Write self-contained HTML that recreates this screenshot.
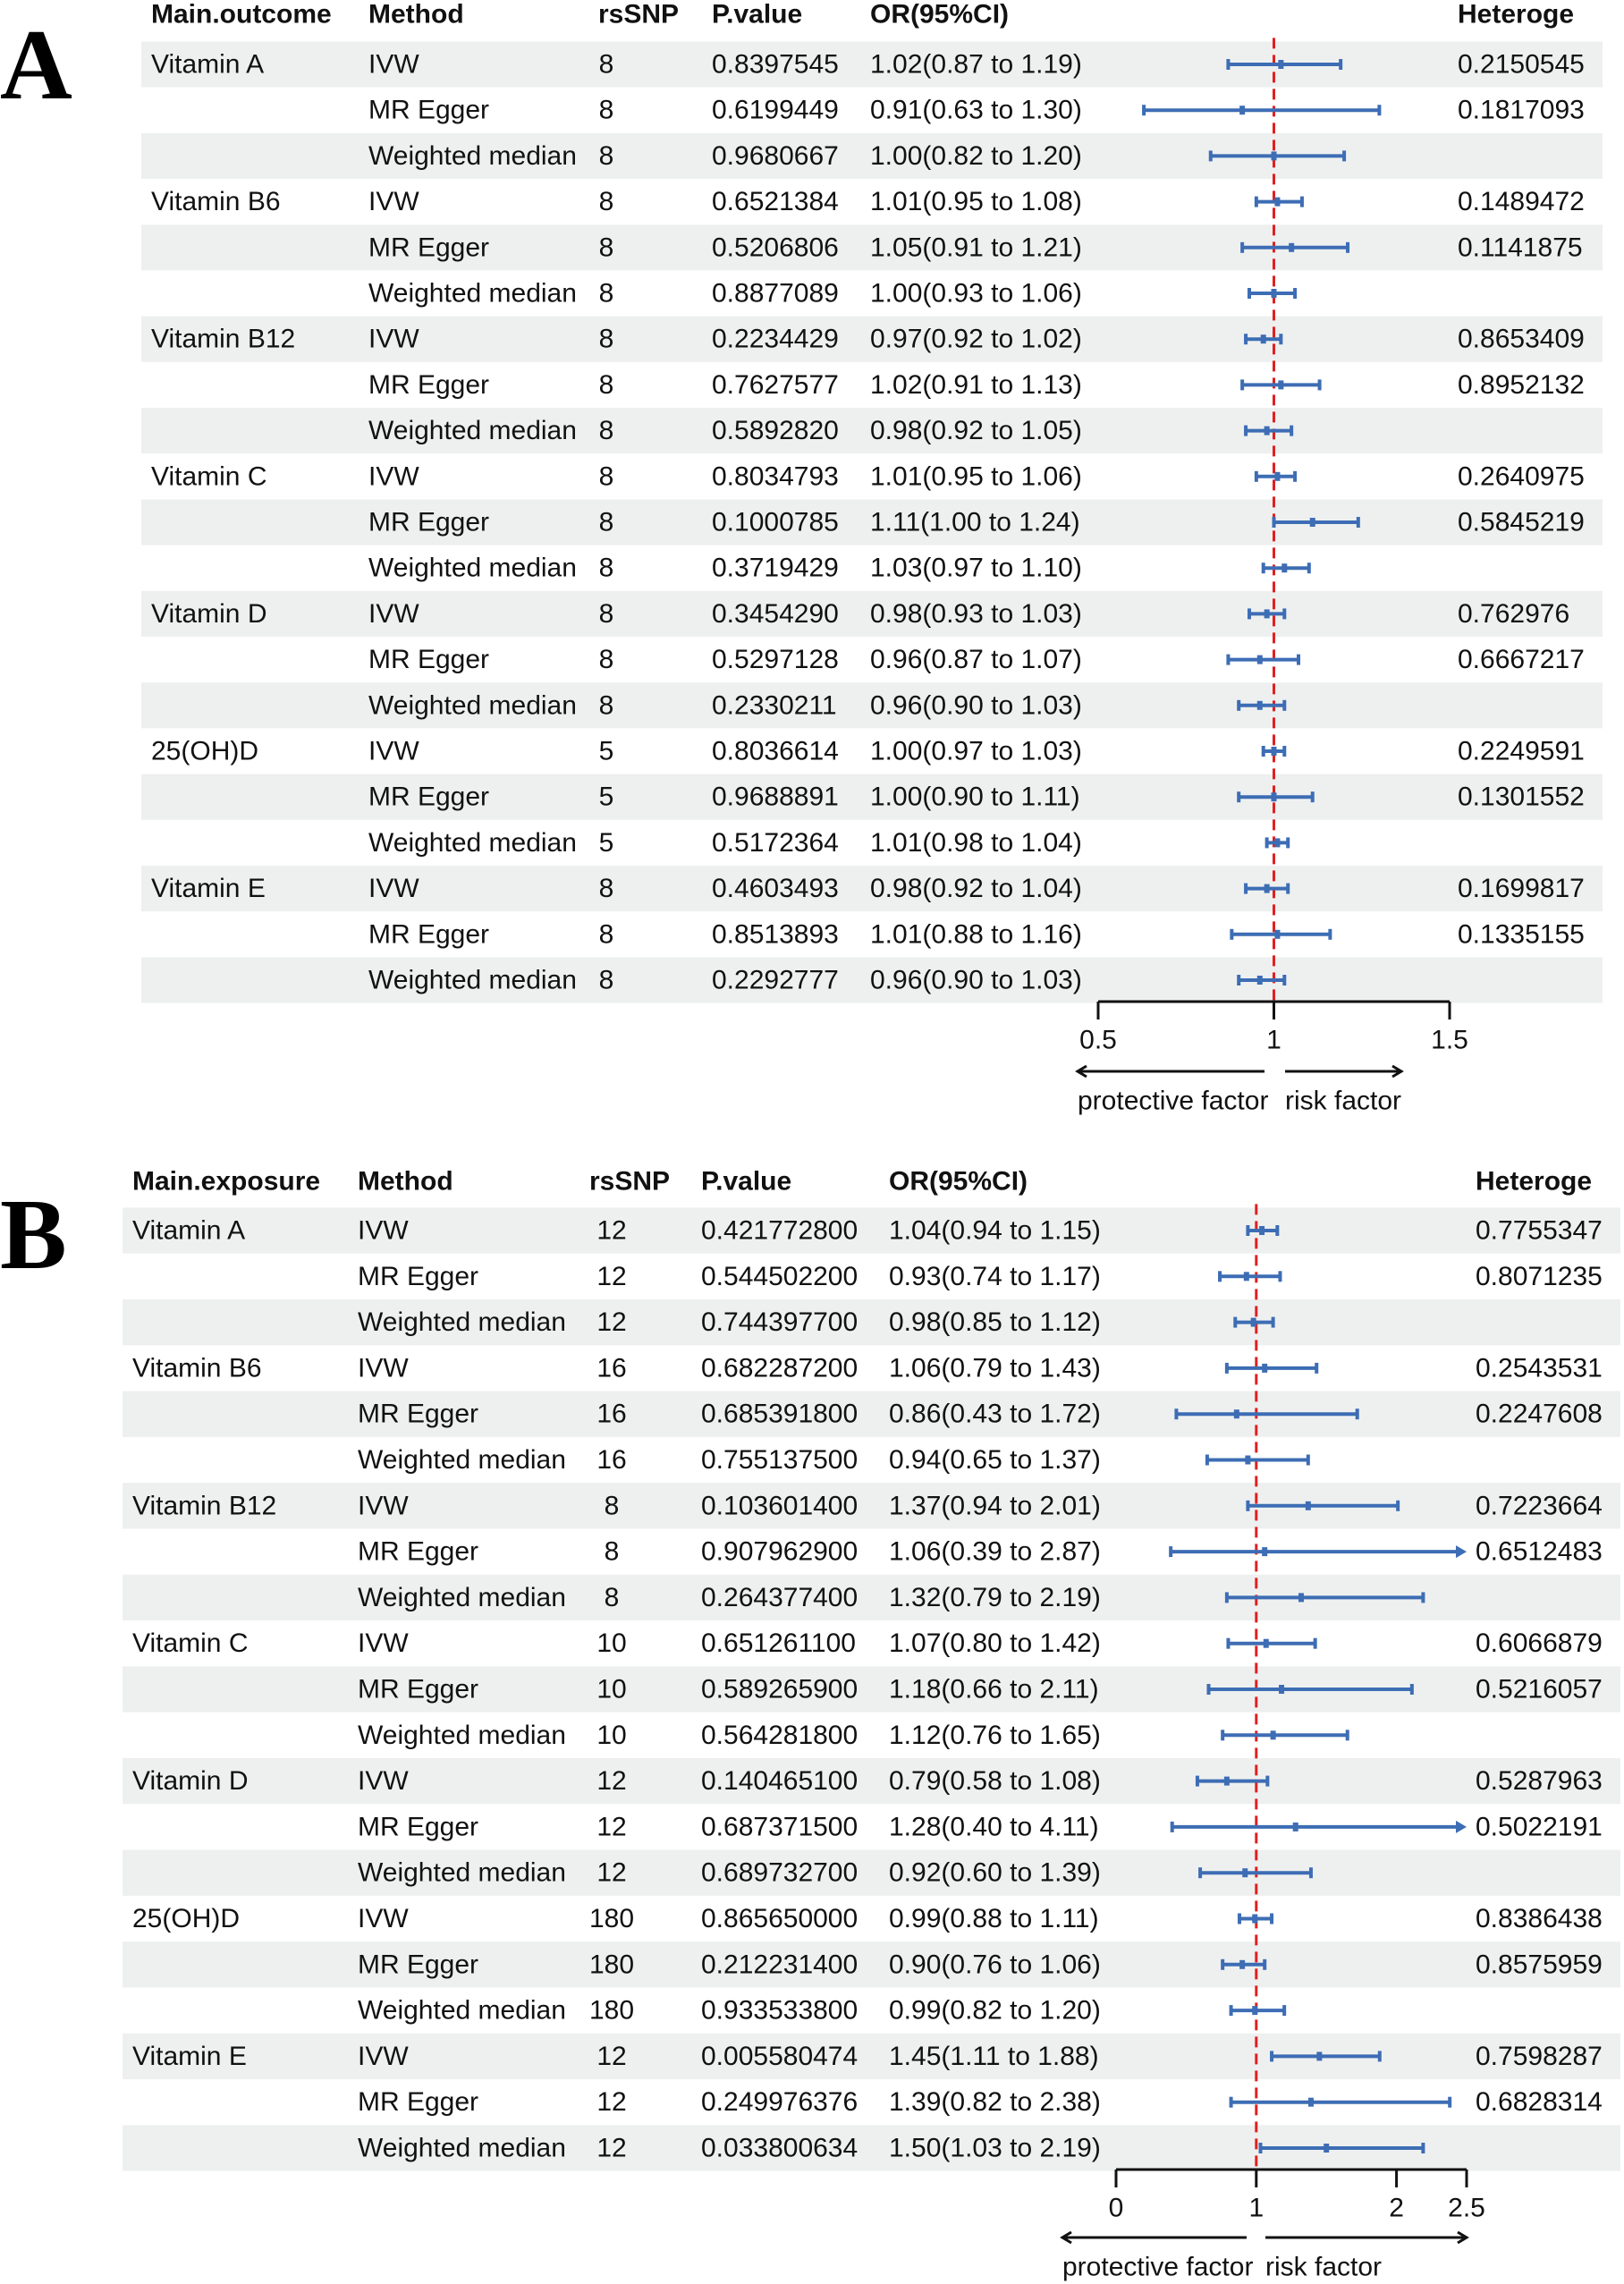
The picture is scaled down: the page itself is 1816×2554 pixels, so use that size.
<!DOCTYPE html>
<html><head><meta charset="utf-8">
<style>
html,body{margin:0;padding:0;background:#fff;}
svg{display:block;font-family:"Liberation Sans",Arial,sans-serif;}
</style></head>
<body>
<svg id="chart" width="1816" height="2554" viewBox="0 0 1816 2554" xmlns="http://www.w3.org/2000/svg"></svg>
<script>
// ---- Panel A data ----
const groupsA = ["Vitamin A","Vitamin B6","Vitamin B12","Vitamin C","Vitamin D","25(OH)D","Vitamin E"];
const methods = ["IVW","MR Egger","Weighted median"];
const snpA = [8,8,8, 8,8,8, 8,8,8, 8,8,8, 8,8,8, 5,5,5, 8,8,8];
const pA = ["0.8397545","0.6199449","0.9680667","0.6521384","0.5206806","0.8877089","0.2234429","0.7627577","0.5892820","0.8034793","0.1000785","0.3719429","0.3454290","0.5297128","0.2330211","0.8036614","0.9688891","0.5172364","0.4603493","0.8513893","0.2292777"];
const orA = [1.02,0.91,1.00, 1.01,1.05,1.00, 0.97,1.02,0.98, 1.01,1.11,1.03, 0.98,0.96,0.96, 1.00,1.00,1.01, 0.98,1.01,0.96];
const loA = [0.87,0.63,0.82, 0.95,0.91,0.93, 0.92,0.91,0.92, 0.95,1.00,0.97, 0.93,0.87,0.90, 0.97,0.90,0.98, 0.92,0.88,0.90];
const hiA = [1.19,1.30,1.20, 1.08,1.21,1.06, 1.02,1.13,1.05, 1.06,1.24,1.10, 1.03,1.07,1.03, 1.03,1.11,1.04, 1.04,1.16,1.03];
const hetA = ["0.2150545","0.1817093","","0.1489472","0.1141875","","0.8653409","0.8952132","","0.2640975","0.5845219","","0.762976","0.6667217","","0.2249591","0.1301552","","0.1699817","0.1335155",""];
const ticksA = [0.5,1,1.5];
const tickLabelsA = ["0.5","1","1.5"];
// ---- Panel B data ----
const groupsB = ["Vitamin A","Vitamin B6","Vitamin B12","Vitamin C","Vitamin D","25(OH)D","Vitamin E"];
const snpB = [12,12,12, 16,16,16, 8,8,8, 10,10,10, 12,12,12, 180,180,180, 12,12,12];
const pB = ["0.421772800","0.544502200","0.744397700","0.682287200","0.685391800","0.755137500","0.103601400","0.907962900","0.264377400","0.651261100","0.589265900","0.564281800","0.140465100","0.687371500","0.689732700","0.865650000","0.212231400","0.933533800","0.005580474","0.249976376","0.033800634"];
const orB = [1.04,0.93,0.98, 1.06,0.86,0.94, 1.37,1.06,1.32, 1.07,1.18,1.12, 0.79,1.28,0.92, 0.99,0.90,0.99, 1.45,1.39,1.50];
const loB = [0.94,0.74,0.85, 0.79,0.43,0.65, 0.94,0.39,0.79, 0.80,0.66,0.76, 0.58,0.40,0.60, 0.88,0.76,0.82, 1.11,0.82,1.03];
const hiB = [1.15,1.17,1.12, 1.43,1.72,1.37, 2.01,2.87,2.19, 1.42,2.11,1.65, 1.08,4.11,1.39, 1.11,1.06,1.20, 1.88,2.38,2.19];
const hetB = ["0.7755347","0.8071235","","0.2543531","0.2247608","","0.7223664","0.6512483","","0.6066879","0.5216057","","0.5287963","0.5022191","","0.8386438","0.8575959","","0.7598287","0.6828314",""];
const ticksB = [0,1,2,2.5];
const tickLabelsB = ["0","1","2","2.5"];

const NS="http://www.w3.org/2000/svg";
const svg=document.getElementById('chart');
function mk(tag,attrs,parent){const e=document.createElementNS(NS,tag);for(const k in attrs)e.setAttribute(k,attrs[k]);(parent||svg).appendChild(e);return e;}
function txt(s,x,y,opt,parent){const t=mk('text',Object.assign({x:x,y:y,'font-size':30,fill:'#111','dominant-baseline':'central'},opt||{}),parent);t.textContent=s;return t;}
const BLUE="#3d6db4";

function panel(cfg){
  const g=mk('g',{});
  
  
  const xs=v=>cfg.x0+(v-cfg.d0)*(cfg.x1-cfg.x0)/(cfg.d1-cfg.d0);
  const rowY=i=>cfg.y0+i*cfg.dy;
  const n=cfg.or.length;
  for(let i=0;i<n;i+=2){
    const r=mk('rect',{x:cfg.bx0,y:rowY(i)-cfg.dy/2,width:cfg.bx1-cfg.bx0,height:cfg.dy,fill:'#eef0f0'},g);
    
    
  }
  const hdr=mk('g',{},g);
  
  
  cfg.headers.forEach(h=>txt(h[0],h[1],cfg.hy,{'font-weight':'bold'},hdr));
  for(let i=0;i<n;i++){
    const y=rowY(i);
    const rg=mk('g',{},g);
    
    
    if(i%3===0) txt(cfg.groups[i/3],cfg.cx[0],y,{},rg);
    txt(methods[i%3],cfg.cx[1],y,{},rg);
    txt(String(cfg.snp[i]),cfg.cx[2],y,{'text-anchor':'middle'},rg);
    txt(cfg.p[i],cfg.cx[3],y,{},rg);
    txt(cfg.or[i].toFixed(2)+"("+cfg.lo[i].toFixed(2)+" to "+cfg.hi[i].toFixed(2)+")",cfg.cx[4],y,{},rg);
    if(cfg.het[i]) txt(cfg.het[i],cfg.cx[5],y,{},rg);
  }
  const rl=mk('line',{x1:xs(1),x2:xs(1),y1:rowY(0)-cfg.dy/2-4,y2:rowY(n-1)+cfg.dy/2,stroke:'#e02020','stroke-width':3,'stroke-dasharray':'12,7'},g);
  
  
  for(let i=0;i<n;i++){
    const y=rowY(i);
    const eb=mk('g',{},g);
    
    
    const lo=Math.max(cfg.lo[i],cfg.d0), hiV=cfg.hi[i], trunc=hiV>cfg.d1, hi=Math.min(hiV,cfg.d1);
    const xl=xs(lo), xh=xs(hi);
    mk('line',{x1:xl,x2:trunc?xh-8:xh,y1:y,y2:y,stroke:BLUE,'stroke-width':4},eb);
    mk('line',{x1:xl,x2:xl,y1:y-6,y2:y+6,stroke:BLUE,'stroke-width':4},eb);
    if(trunc) mk('polygon',{points:(xh-12)+','+(y-7)+' '+xh+','+y+' '+(xh-12)+','+(y+7),fill:BLUE},eb);
    else mk('line',{x1:xh,x2:xh,y1:y-6,y2:y+6,stroke:BLUE,'stroke-width':4},eb);
    const xp=xs(cfg.or[i]);
    mk('rect',{x:xp-3,y:y-5,width:6,height:10,fill:BLUE},eb);
  }
  const ax=mk('g',{},g);
  
  
  const t0=cfg.ticks[0],t1=cfg.ticks[cfg.ticks.length-1];
  mk('line',{x1:xs(t0),x2:xs(t1),y1:cfg.ay,y2:cfg.ay,stroke:'#111','stroke-width':3},ax);
  cfg.ticks.forEach((t,k)=>{
    mk('line',{x1:xs(t),x2:xs(t),y1:cfg.ay,y2:cfg.ay+20,stroke:'#111','stroke-width':3},ax);
    txt(cfg.tickLabels[k],xs(t),cfg.ay+43,{'text-anchor':'middle'},ax);
  });
  const ar=mk('g',{},g);
  
  
  const A=cfg.arrow;
  mk('path',{d:`M${A[1]},${A[4]} L${A[0]},${A[4]} M${A[0]+10},${A[4]-6} L${A[0]},${A[4]} L${A[0]+10},${A[4]+6}`,stroke:'#111','stroke-width':3,fill:'none'},ar);
  mk('path',{d:`M${A[2]},${A[4]} L${A[3]},${A[4]} M${A[3]-10},${A[4]-6} L${A[3]},${A[4]} L${A[3]-10},${A[4]+6}`,stroke:'#111','stroke-width':3,fill:'none'},ar);
  txt("protective factor",A[0],A[4]+33,{},ar);
  txt("risk factor",A[2],A[4]+33,{},ar);
  const L=txt(cfg.letter,0,cfg.ly,{'font-family':'"Liberation Serif",serif','font-weight':'bold','font-size':112,'dominant-baseline':'alphabetic',fill:'#000'},g);
  
  
}

panel({name:'panel-a',letter:'A',ly:110,groups:groupsA,snp:snpA,p:pA,or:orA,lo:loA,hi:hiA,het:hetA,
  ticks:ticksA,tickLabels:tickLabelsA,d0:0.5,d1:1.5,x0:1228,x1:1621,
  y0:72,dy:51.2,hy:16,bx0:158,bx1:1792,cx:[169,412,678,796,973,1630],
  headers:[["Main.outcome",169],["Method",412],["rsSNP",669],["P.value",796],["OR(95%CI)",973],["Heteroge",1630]],
  ay:1120,arrow:[1205,1414,1437,1567,1198]});
panel({name:'panel-b',letter:'B',ly:1418,groups:groupsB,snp:snpB,p:pB,or:orB,lo:loB,hi:hiB,het:hetB,
  ticks:ticksB,tickLabels:tickLabelsB,d0:0,d1:2.5,x0:1248,x1:1640,
  y0:1376,dy:51.3,hy:1321,bx0:137,bx1:1812,cx:[148,400,684,784,994,1650],
  headers:[["Main.exposure",148],["Method",400],["rsSNP",659],["P.value",784],["OR(95%CI)",994],["Heteroge",1650]],
  ay:2426,arrow:[1188,1394,1415,1640,2502]});
</script>
</body></html>
